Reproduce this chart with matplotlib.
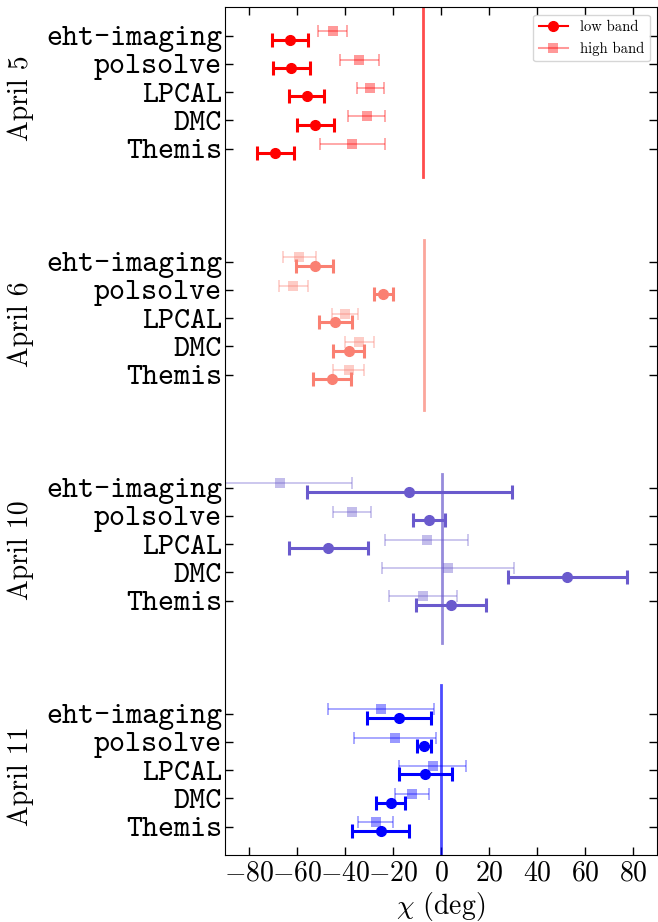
import matplotlib
matplotlib.use('Agg')
import matplotlib.pyplot as plt
import matplotlib.transforms as mtransforms
from matplotlib.lines import Line2D
from matplotlib.ticker import FuncFormatter

plt.rcParams['mathtext.fontset'] = 'cm'
plt.rcParams['font.family'] = 'cmr10'
plt.rcParams['axes.unicode_minus'] = False

methods = ['eht-imaging', 'polsolve', 'LPCAL', 'DMC', 'Themis']
days = ['April 5', 'April 6', 'April 10', 'April 11']
colors = ['red', 'salmon', 'slateblue', 'blue']

# EVPA chi (deg) per day, order as in methods
low_chi = [[-63.0, -62.5, -56.0, -52.5, -69.0],
           [-52.7, -24.0, -44.0, -38.5, -45.5],
           [-13.3, -5.0, -47.0, 52.7, 4.2],
           [-17.4, -7.0, -6.6, -21.0, -25.2]]
low_err = [[7.5, 7.7, 7.2, 7.7, 7.7],
           [7.6, 3.9, 7.0, 6.6, 8.0],
           [42.7, 6.6, 16.5, 25.0, 14.5],
           [13.3, 2.9, 11.0, 5.9, 11.8]]
high_chi = [[-45.2, -34.0, -29.5, -31.0, -37.0],
            [-59.0, -61.5, -40.0, -34.0, -38.5],
            [-67.0, -37.0, -6.0, 2.8, -7.5],
            [-25.0, -19.3, -3.5, -12.0, -27.3]]
high_err = [[6.2, 8.3, 5.6, 7.8, 13.5],
            [6.9, 6.0, 5.4, 6.2, 6.6],
            [30.0, 8.0, 17.2, 27.6, 14.2],
            [22.2, 17.0, 13.9, 7.0, 7.4]]
# reference chi line for each day
ref_chi = [-7.5, -7.3, 0.5, -0.2]
line_spans = [(0.8, 1.0), (0.525, 0.725), (0.25, 0.45), (0.0, 0.2)]

fig = plt.figure(figsize=(6.58, 9.22), dpi=100)
ax = fig.add_axes([0.342, 0.0727, 0.6565, 0.9194])

yticks = []
for i in range(len(days)):
    ypos = [8 * i + j for j in range(len(methods))]
    yticks += ypos
    hb = ax.errorbar(high_chi[i], [y - 0.15 for y in ypos], xerr=high_err[i],
                     fmt='s', color=colors[i], alpha=0.4, ms=7,
                     elinewidth=1.2, capsize=4.5, capthick=1.2)
    hb[0].set_markeredgewidth(0)
    ax.errorbar(low_chi[i], [y + 0.15 for y in ypos], xerr=low_err[i],
                fmt='o', color=colors[i], ms=7, elinewidth=2.2,
                capsize=5, capthick=2.2)
    ax.axvline(ref_chi[i], ymin=line_spans[i][0], ymax=line_spans[i][1],
               color=colors[i], alpha=0.7, lw=2)

ax.set_xlim(-90, 90)
ax.set_ylim(29, -1)
ax.set_xticks(range(-80, 81, 20))
ax.xaxis.set_major_formatter(FuncFormatter(lambda v, p: '$%d$' % v))
ax.set_yticks(yticks)
ax.set_yticklabels(methods * len(days), family='cmtt10', fontsize=22)
ax.tick_params(direction='in', top=True, right=True, length=5.5, width=1)
ax.tick_params(axis='x', labelsize=20, pad=4)
ax.tick_params(axis='y', pad=2)
ax.set_xlabel(r'$\chi$ (deg)', fontsize=20, labelpad=2)

trans = mtransforms.blended_transform_factory(fig.transFigure, ax.transData)
for i, day in enumerate(days):
    ax.text(0.032, 8 * i + 2.2, day, transform=trans, rotation=90,
            ha='center', va='center', fontsize=20)

handles = [Line2D([], [], color='red', marker='o', ms=7, lw=1.5),
           Line2D([], [], color='red', marker='s', ms=7, mew=0, lw=1.5,
                  alpha=0.4)]
ax.legend(handles, ['low band', 'high band'], loc='upper right',
          fontsize=10.5)

fig.savefig('out.png', dpi=100)
